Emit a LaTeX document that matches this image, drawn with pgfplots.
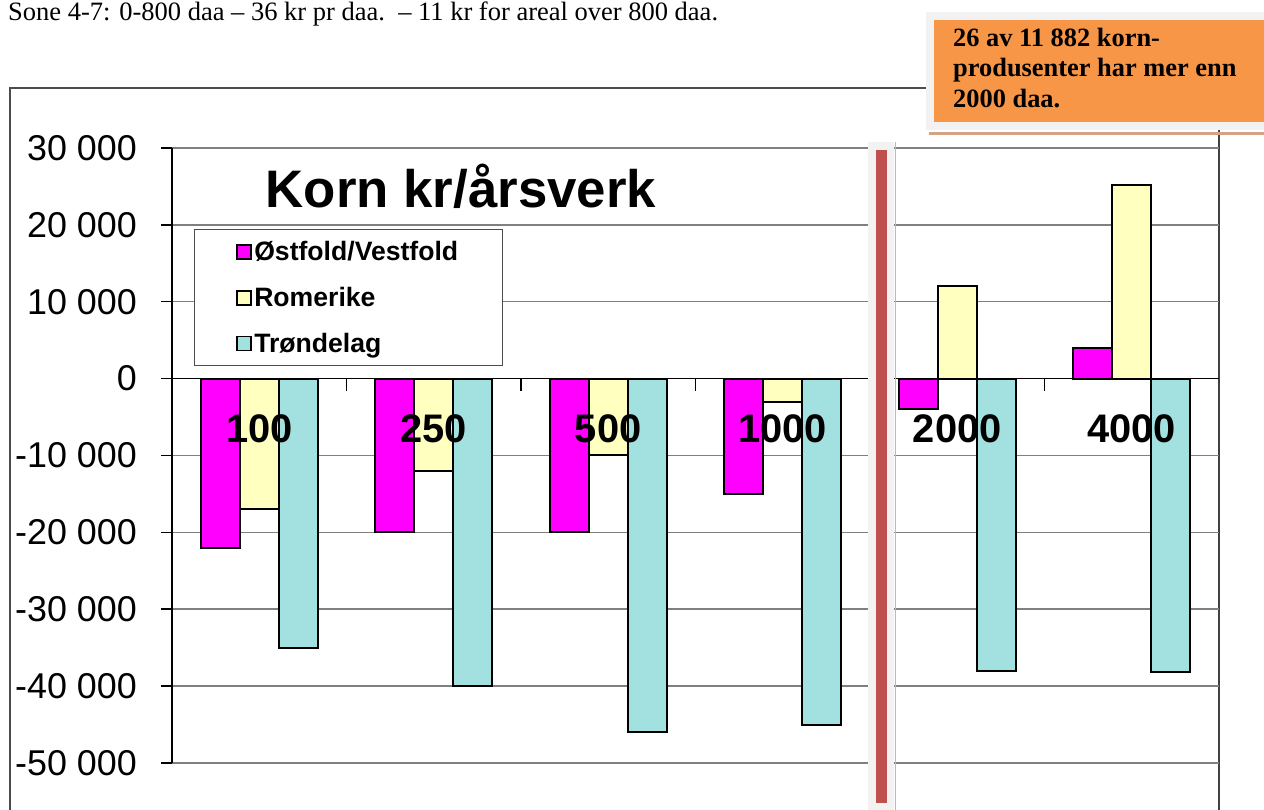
\documentclass[border=0pt]{standalone}
\usepackage{fontspec}
\setmainfont{Liberation Serif}
\newfontfamily\arial{Liberation Sans}
\usepackage{pgfplots}
\pgfplotsset{compat=1.18}
\definecolor{barmag}{HTML}{FF00FF}
\definecolor{baryel}{HTML}{FFFFC0}
\definecolor{barcya}{HTML}{A3E0E0}
\definecolor{gridg}{HTML}{808080}
\definecolor{divred}{HTML}{C0504D}
\definecolor{divgray}{HTML}{F2F2F2}
\definecolor{boxor}{HTML}{F79646}
\definecolor{boxtan}{HTML}{D4A383}
\begin{document}
\begin{tikzpicture}[x=1bp,y=1bp]
\path[use as bounding box] (0,0) rectangle (1264,810);
% outer frame
\draw[black!70, line width=1.2bp] (10,0) -- (10,722) -- (930,722);
\draw[black!75, line width=1.5bp] (1219,0) -- (1219,682);
\node[anchor=base west, inner sep=0pt, font=\fontsize{26.6}{30}\selectfont] at (8,789) {Sone 4-7: 0-800 daa – 36 kr pr daa.\ \ – 11 kr for areal over 800 daa.};
\begin{axis}[
  at={(172bp,47bp)}, anchor=south west,
  scale only axis, width=1047bp, height=615bp,
  xmin=-0.5, xmax=5.5, ymin=-50000, ymax=30000,
  axis x line=none, axis y line*=left,
  axis line style={black, line width=1.5bp},
  ybar=0pt, bar width=39bp,
  scaled y ticks=false,
  ytick={-50000,-40000,-30000,-20000,-10000,0,10000,20000,30000},
  yticklabels={-50 000,-40 000,-30 000,-20 000,-10 000,0,10 000,20 000,30 000},
  yticklabel style={font=\arial\fontsize{36}{40}\selectfont, anchor=east, inner sep=0pt, xshift=-24bp},
  tick align=outside, major tick length=11bp,
  tick style={black, line width=1.5bp},
  ymajorgrids, grid style={gridg, line width=1.5bp},
  extra y ticks={0}, extra y tick labels={},
  extra y tick style={grid style={black, line width=1.5bp}, major tick length=0pt},
  clip=false,
  legend style={at={(axis description cs:0.021,0.868)}, anchor=north west,
    draw=black!70, line width=1bp, font=\arial\bfseries\fontsize{26.7}{28}\selectfont,
    inner xsep=42bp, inner ysep=10bp, row sep=21bp},
  legend cell align=left,
  legend image code/.code={\draw[#1, draw=black, line width=1.8bp] (0bp,-7bp) rectangle (14bp,7bp);},
]
\addplot[fill=barmag, draw=black, line width=2bp] coordinates {(0,-22000) (1,-20000) (2,-20000) (3,-15000) (4,-4000) (5,4000)};
\addplot[fill=baryel, draw=black, line width=2bp] coordinates {(0,-17000) (1,-12000) (2,-10000) (3,-3000) (4,12000) (5,25200)};
\addplot[fill=barcya, draw=black, line width=2bp] coordinates {(0,-35000) (1,-40000) (2,-46000) (3,-45000) (4,-38000) (5,-38200)};
\legend{Østfold/Vestfold, Romerike, Trøndelag}
\foreach \xx in {0.5,1.5,2.5,4.5} {\edef\tmp{\noexpand\draw[black, line width=1.5bp] (axis cs:\xx,0) -- (axis cs:\xx,-1560);}\tmp}
\foreach \xx/\lab in {0/100,1/250,2/500,3/1000,4/2000,5/4000} {\edef\tmp{\noexpand\node[anchor=base, inner sep=0pt, font=\noexpand\arial\noexpand\bfseries\noexpand\fontsize{40}{40}\noexpand\selectfont] at (axis cs:\xx,-8300) {\lab};}\tmp}
\end{axis}
\node[anchor=base, inner sep=0pt, font=\arial\bfseries\fontsize{53}{58}\selectfont] at (461,602) {Korn kr/årsverk};
% divider
\fill[divgray] (868,0) rectangle (894,668);
\fill[divred] (876,7) rectangle (887,660);
\draw[boxtan!70!pink, line width=1.5bp] (895.5,0) -- (895.5,668);
% orange box
\fill[divgray] (926,680) rectangle (1264,798);
\fill[boxor] (934,688) rectangle (1264,790);
\draw[boxtan, line width=3bp] (929,676) -- (1264,676);
\node[anchor=base west, inner sep=0pt, font=\bfseries\fontsize{26.5}{30}\selectfont] at (953,763) {26 av 11 882 korn-};
\node[anchor=base west, inner sep=0pt, font=\bfseries\fontsize{26.5}{30}\selectfont] at (953,733) {produsenter har mer enn};
\node[anchor=base west, inner sep=0pt, font=\bfseries\fontsize{26.5}{30}\selectfont] at (953,702) {2000 daa.};
\end{tikzpicture}
\end{document}
